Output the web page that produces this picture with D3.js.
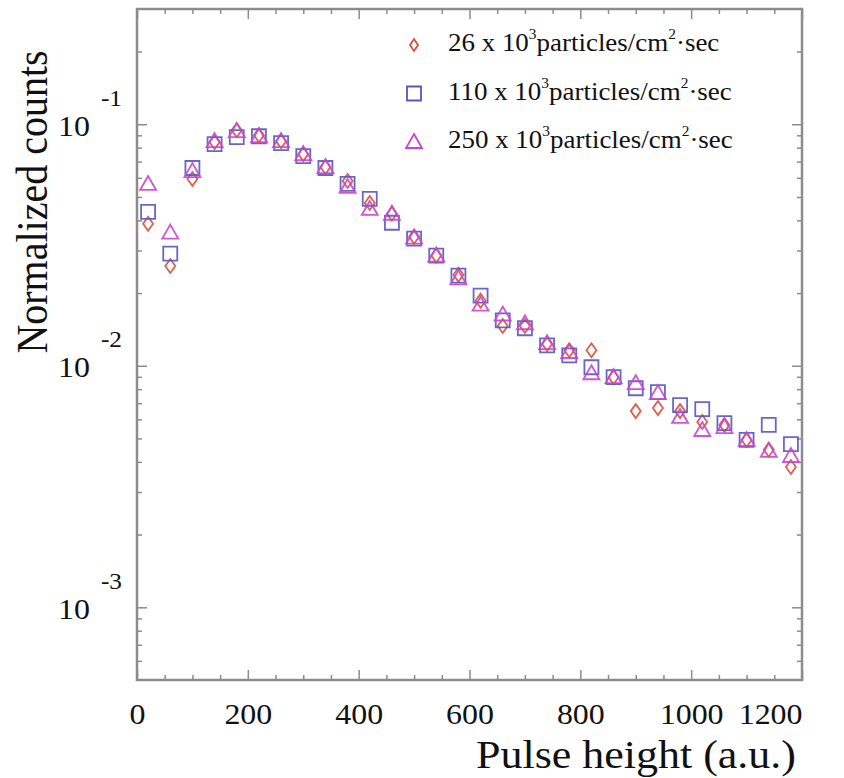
<!DOCTYPE html>
<html>
<head>
 <title>Normalized counts vs pulse height</title>
 <script src="https://d3js.org/d3.v7.min.js"></script>
 <style>
   body { margin: 0; background: #fff; }
   svg text { font-family: "Liberation Serif", "Times New Roman", serif; fill: #111; }
 </style>
</head>
<body>
 <div id="chart"></div>
 <script>
   // pulse height bins (a.u.)
   let pulseHeight = [20, 60, 100, 140, 180, 220, 260, 300, 340, 380, 420, 460, 500, 540, 580,
                      620, 660, 700, 740, 780, 820, 860, 900, 940, 980, 1020, 1060, 1100, 1140, 1180];

   // normalized counts, 26 x 10^3 particles/cm2 sec
   let rate26 = [0.0387, 0.0259, 0.0593, 0.0843, 0.0945, 0.0901, 0.0851, 0.0752, 0.0665, 0.0582,
                 0.0472, 0.0426, 0.0342, 0.0286, 0.0238, 0.0186, 0.0146, 0.0146, 0.0123, 0.0116,
                 0.0116, 0.00897, 0.00649, 0.00668, 0.00649, 0.00585, 0.00569, 0.00493, 0.00449, 0.00381];

   // 110 x 10^3
   let rate110 = [0.0434, 0.0291, 0.0659, 0.0827, 0.0884, 0.0892, 0.0835, 0.0738, 0.0659, 0.0566,
                  0.0491, 0.0391, 0.0336, 0.0286, 0.0236, 0.0195, 0.0154, 0.0143, 0.01215, 0.01105,
                  0.00986, 0.00897, 0.00807, 0.00778, 0.00687, 0.00662, 0.00579, 0.00493, 0.00569, 0.00474];

   // 250 x 10^3
   let rate250 = [0.0566, 0.0356, 0.0640, 0.0851, 0.0936, 0.0892, 0.0851, 0.0752, 0.0665, 0.0550,
                  0.0446, 0.0426, 0.0339, 0.0286, 0.0230, 0.0179, 0.0163, 0.0150, 0.0124, 0.0114,
                  0.00931, 0.00897, 0.00847, 0.00771, 0.00614, 0.00542, 0.00557, 0.00493, 0.00444, 0.00423];

   let xTicks = [0, 200, 400, 600, 800, 1000, 1200];
   let yTicks = [0.1, 0.01, 0.001];
   let yExponents = ["-1", "-2", "-3"];
   let legendNumbers = ["26", "110", "250"];

   let width = 844, height = 778;
   let margin = { top: 9, right: 42, bottom: 98, left: 137 };
   let stretch = 1.1; // the original figure is a bit wider than tall

   let svg = d3.select('#chart')
     .append('svg')
     .attr('width', width)
     .attr('height', height);

   let x = d3.scaleLinear()
     .domain([0, 1200])
     .range([margin.left, width - margin.right]);

   let y = d3.scaleLog()
     .domain([5e-4, 0.3])
     .range([height - margin.bottom, margin.top]);

   let frameColor = '#8c8c8c';

   // minor ticks every 50 on x, 2..9 per decade on y
   let xMinor = d3.range(0, 1201, 50).filter(v => v % 200 !== 0);
   let yMinor = [];
   [1e-4, 1e-3, 1e-2, 1e-1].forEach(d => {
     for (let k = 2; k <= 9; k++) {
       let v = d * k;
       if (v > 5e-4 && v < 0.3) yMinor.push(v);
     }
   });

   function styleAxis(g) {
     g.attr('font-family', null).attr('font-size', null);
     g.select('.domain').remove();
     g.selectAll('line').attr('stroke', frameColor).attr('stroke-width', 1.5);
   }

   let bottomY = height - margin.bottom;
   let rightX = width - margin.right;

   // bottom axis with labels
   svg.append('g')
     .attr('transform', `translate(0,${bottomY})`)
     .call(d3.axisBottom(x).tickValues(xTicks).tickSize(-10).tickFormat(d3.format('d')))
     .call(styleAxis)
     .call(g => g.selectAll('text')
       .attr('y', null)
       .attr('dy', null)
       .attr('font-size', 29)
       .attr('text-anchor', d => d === 1200 ? 'end' : 'middle')
       .attr('transform', `translate(0,44) scale(${stretch},1)`));

   svg.append('g')
     .attr('transform', `translate(0,${bottomY})`)
     .call(d3.axisBottom(x).tickValues(xMinor).tickSize(-5).tickFormat(''))
     .call(styleAxis);

   // top axis ticks
   svg.append('g')
     .attr('transform', `translate(0,${margin.top})`)
     .call(d3.axisTop(x).tickValues(xTicks).tickSize(-10).tickFormat(''))
     .call(styleAxis);
   svg.append('g')
     .attr('transform', `translate(0,${margin.top})`)
     .call(d3.axisTop(x).tickValues(xMinor).tickSize(-5).tickFormat(''))
     .call(styleAxis);

   // left axis, labels as 10 with exponent
   svg.append('g')
     .attr('transform', `translate(${margin.left},0)`)
     .call(d3.axisLeft(y).tickValues(yTicks).tickSize(-10).tickFormat(''))
     .call(styleAxis)
     .call(g => g.selectAll('.tick').each(function (d, i) {
       let t = d3.select(this).select('text')
         .attr('text-anchor', 'end')
         .attr('x', null)
         .attr('dy', null)
         .attr('y', null)
         .attr('transform', `translate(-15,11) scale(${stretch},1)`)
         .attr('font-size', 29);
       t.append('tspan').text('10');
       t.append('tspan')
         .attr('dx', 10)
         .attr('dy', -30)
         .attr('font-size', 23)
         .text(yExponents[i]);
     }));
   svg.append('g')
     .attr('transform', `translate(${margin.left},0)`)
     .call(d3.axisLeft(y).tickValues(yMinor).tickSize(-5).tickFormat(''))
     .call(styleAxis);

   // right axis ticks
   svg.append('g')
     .attr('transform', `translate(${rightX},0)`)
     .call(d3.axisRight(y).tickValues(yTicks).tickSize(-10).tickFormat(''))
     .call(styleAxis);
   svg.append('g')
     .attr('transform', `translate(${rightX},0)`)
     .call(d3.axisRight(y).tickValues(yMinor).tickSize(-5).tickFormat(''))
     .call(styleAxis);

   // frame
   svg.append('rect')
     .attr('x', margin.left)
     .attr('y', margin.top)
     .attr('width', rightX - margin.left)
     .attr('height', bottomY - margin.top)
     .attr('fill', 'none')
     .attr('stroke', frameColor)
     .attr('stroke-width', 2.5);

   // markers
   let series = [
     { values: rate26, color: '#d8503a', shape: 'diamond' },
     { values: rate110, color: '#5a55bf', shape: 'square' },
     { values: rate250, color: '#c945cf', shape: 'triangle' }
   ];

   function markerPath(shape) {
     if (shape === 'diamond') return 'M0,-7L5,0L0,7L-5,0Z';
     if (shape === 'square') return 'M-7,-7H7V7H-7Z';
     return 'M0,-8L8,6H-8Z';
   }

   series.forEach(s => {
     svg.append('g')
       .selectAll('path')
       .data(pulseHeight.map((p, i) => [p, s.values[i]]))
       .enter()
       .append('path')
       .attr('d', markerPath(s.shape))
       .attr('transform', d => `translate(${x(d[0])},${y(d[1])})`)
       .attr('fill', 'none')
       .attr('stroke', s.color)
       .attr('stroke-width', 1.8)
       .attr('opacity', 0.9);
   });

   // legend
   let legend = svg.append('g');
   series.forEach((s, i) => {
     let cy = 45 + i * 48.5;
     legend.append('path')
       .attr('d', s.shape === 'diamond' ? 'M0,-6L4,0L0,6L-4,0Z' : markerPath(s.shape))
       .attr('transform', `translate(414,${cy})`)
       .attr('fill', 'none')
       .attr('stroke', s.color)
       .attr('stroke-width', 1.8);
     let t = legend.append('text')
       .attr('transform', `translate(448,${cy + 6}) scale(${stretch},1)`)
       .attr('font-size', 24.5);
     t.append('tspan').text(legendNumbers[i] + ' x 10');
     t.append('tspan').attr('dy', -12).attr('font-size', 14).text('3');
     t.append('tspan').attr('dy', 12).text('particles/cm');
     t.append('tspan').attr('dy', -12).attr('font-size', 14).text('2');
     t.append('tspan').attr('dy', 12).text('·sec');
   });

   // axis titles
   svg.append('text')
     .attr('transform', `translate(796,768) scale(${stretch},1)`)
     .attr('text-anchor', 'end')
     .attr('font-size', 40)
     .text('Pulse height (a.u.)');

   svg.append('text')
     .attr('transform', `translate(47,202) scale(${stretch},1) rotate(-90)`)
     .attr('text-anchor', 'middle')
     .attr('font-size', 40)
     .text('Normalized counts');
 </script>
</body>
</html>
